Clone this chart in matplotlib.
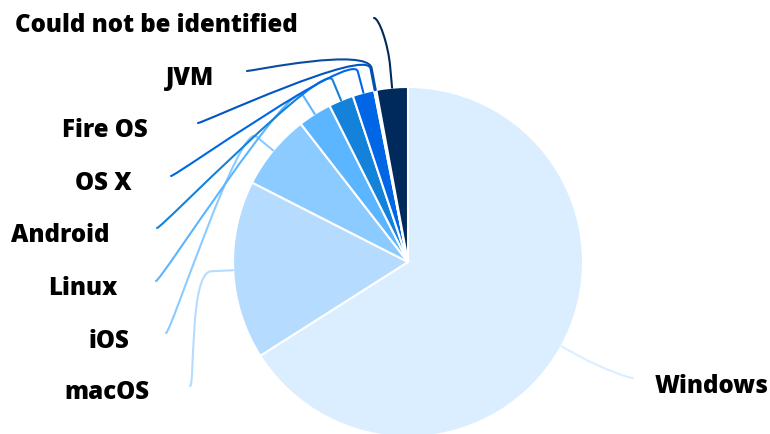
import numpy as np
import matplotlib
matplotlib.use('Agg')
import matplotlib.pyplot as plt
from matplotlib.path import Path
from matplotlib.patches import PathPatch
from matplotlib import font_manager

# Данные диаграммы
labels = ['Windows', 'macOS', 'iOS', 'Linux', 'Android', 'OS X', 'Fire OS', 'JVM',
          'Could not be identified']
shares = [66.0, 16.5, 7.0, 3.1, 2.3, 2.0, 0.1, 0.1, 2.9]
colors = ['#dbeeff', '#b5dcff', '#8ccbff', '#5cb5ff', '#1482d9', '#0066e6',
          '#0055c4', '#0a4ca0', '#002a5c']

# Раскладка подписей (в пикселях картинки): край текста, базовая линия, начало линии
label_x = [655, 149, 129, 117, 109, 132, 148, 214, 298]
label_base = [393, 399, 348, 295, 242, 190, 137, 85, 32]
line_start = [(633, 379), (190, 387), (166, 334), (156, 282), (157, 229),
              (171, 177), (198, 124), (247, 72), (374, 19)]

W, H = 770, 435
cx, cy, R = 408, 263, 175
BREAK = 22

# есть ли Open Sans ExtraBold
weights = {f.weight for f in font_manager.fontManager.ttflist if f.name == 'Open Sans'}
heavy = any(isinstance(wt, int) and wt >= 800 for wt in weights) or 'extra bold' in weights
fsize = 17.3 if heavy else 18.5
fweight = 800 if heavy else 'bold'

fig = plt.figure(figsize=(W / 100, H / 100), dpi=100)
ax = fig.add_axes([0, 0, 1, 1])

# ось y перевёрнута, поэтому counterclock=True рисует по часовой стрелке
wedges, _ = ax.pie(shares, colors=colors, startangle=-90, counterclock=True,
                   center=(cx, cy), radius=R,
                   wedgeprops=dict(edgecolor='white', linewidth=1.5))
ax.set_xlim(0, W)
ax.set_ylim(H, 0)
ax.set_aspect('equal')
ax.axis('off')

for i, w in enumerate(wedges):
    mid = np.deg2rad((w.theta1 + w.theta2) / 2)
    u = np.array([np.cos(mid), np.sin(mid)])
    touch = np.array([cx, cy]) + R * u
    brk = touch + BREAK * u
    lx, ly = line_start[i]
    right_side = i == 0
    c1 = (lx - 5 if right_side else lx + 5, ly)
    c2 = 2 * brk - touch
    path = Path([(lx, ly), c1, tuple(c2), tuple(brk), tuple(touch)],
                [Path.MOVETO, Path.CURVE4, Path.CURVE4, Path.CURVE4, Path.LINETO])
    ax.add_patch(PathPatch(path, facecolor='none', edgecolor=colors[i],
                           linewidth=1.5, capstyle='round', joinstyle='round'))
    ax.text(label_x[i], label_base[i], labels[i], ha='left' if right_side else 'right',
            va='baseline', fontsize=fsize, fontweight=fweight, family='Open Sans',
            color='#000000')

fig.savefig('out.png', dpi=100)
